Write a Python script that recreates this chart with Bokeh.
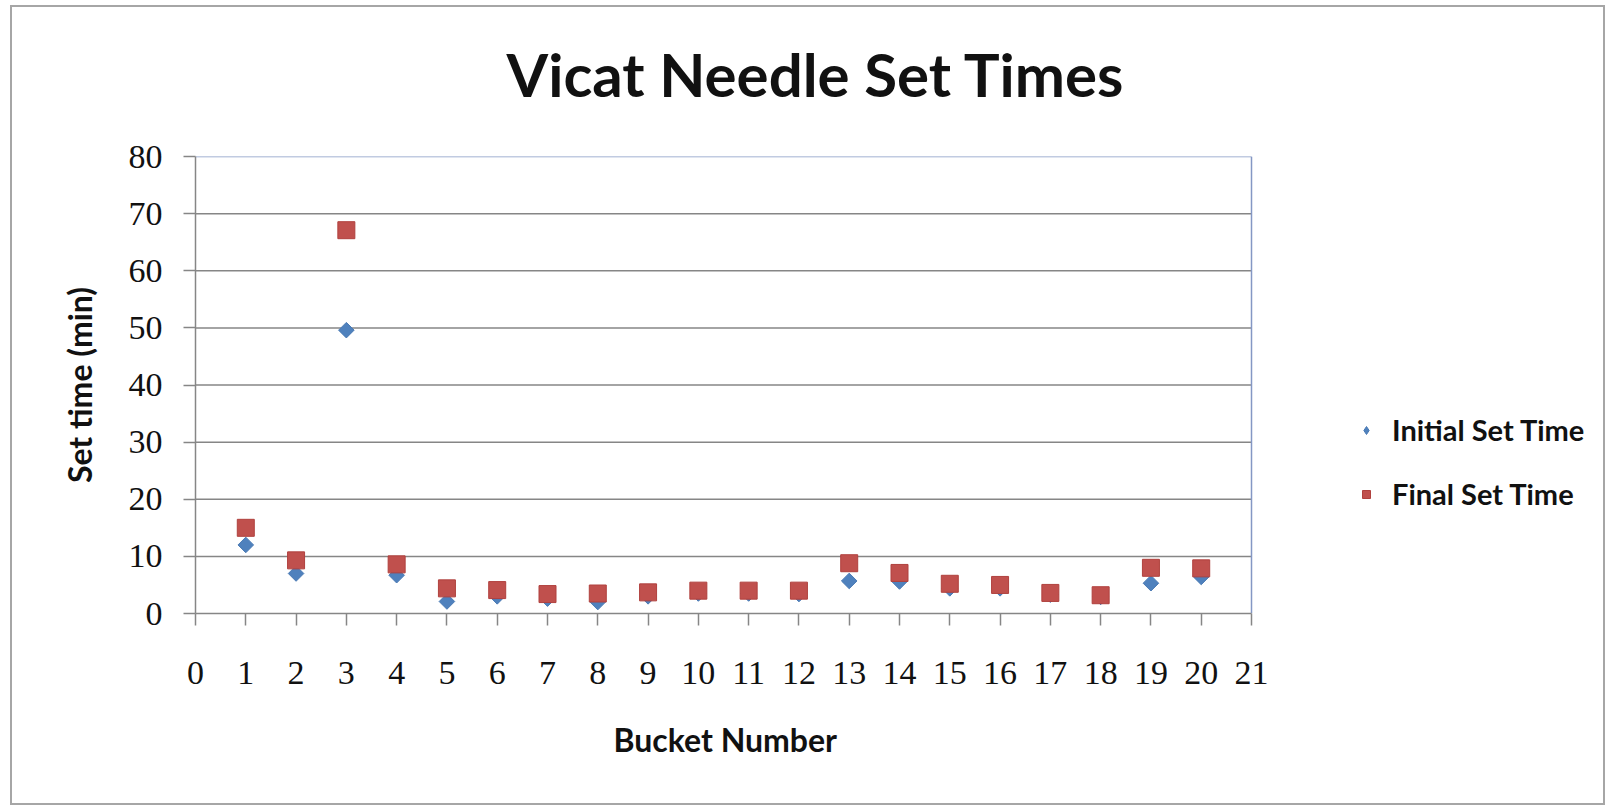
import math
from bokeh.plotting import figure
from bokeh.models import Legend, LegendItem, FixedTicker, Range1d, Title
from bokeh.embed import file_html
from bokeh.resources import INLINE

buckets = list(range(1, 21))
initial_set = [12.0, 7.0, 49.6, 6.7, 2.1, 3.0, 2.6, 2.0, 3.0, 3.5,
               3.5, 3.4, 5.7, 5.6, 4.4, 4.4, 3.3, 2.9, 5.3, 6.4]
final_set = [15.0, 9.3, 67.1, 8.6, 4.4, 4.1, 3.4, 3.5, 3.7, 4.0,
             4.0, 4.0, 8.8, 7.1, 5.2, 5.0, 3.6, 3.2, 8.0, 7.9]
x_ticks = list(range(0, 22))
y_ticks = list(range(0, 81, 10))

BLUE, BLUE_EDGE = "#4f81bd", "#4a7ab4"
RED, RED_EDGE = "#c0504d", "#b0413e"
GRID = "#868686"
FRAME = "#8497c4"
BOX = "#a6a6a6"

# canvas / layout (pixels); the element is shifted up 15px so the tall
# title panel fits above the plot area
SHIFT = 15
W, H = 1606, 821
LEFT, TOP, BOTTOM = 195, 171, 193
PLOT_W = 1056                       # width of the data area (x from 0 to 21)
frame_w = W - LEFT                  # frame extends right to hold the legend
x_min, x_max = x_ticks[0], x_ticks[-1]
x_end = x_min + (x_max - x_min) * frame_w / PLOT_W

p = figure(width=W, height=H, output_backend="svg", toolbar_location=None,
           x_range=Range1d(x_min, x_end), y_range=Range1d(y_ticks[0], y_ticks[-1]),
           min_border_left=LEFT, min_border_right=0,
           min_border_top=TOP, min_border_bottom=BOTTOM,
           background_fill_color=None, border_fill_color=None)
# outer chart-area box drawn as CSS background lines behind the transparent canvas
line = f"linear-gradient({BOX},{BOX})"
p.styles = {
    "margin-top": f"-{SHIFT}px",
    "background-color": "white",
    "background-image": ", ".join([line] * 4),
    "background-repeat": "no-repeat",
    "background-position": f"10px {5 + SHIFT}px, 10px {803 + SHIFT}px, "
                           f"10px {5 + SHIFT}px, 1603px {5 + SHIFT}px",
    "background-size": "1595px 2px, 1595px 2px, 2px 800px, 2px 800px",
}
p.outline_line_color = None

p.title = Title(text="Vicat Needle Set Times", align="left",
                text_font="Lato", text_font_size="60px", text_font_style="bold",
                text_color="#111111", standoff=94, offset=311)

for ax in (p.xaxis, p.yaxis):
    ax.axis_line_color = GRID
    ax.axis_line_width = 1.5
    ax.major_tick_line_color = GRID
    ax.major_tick_line_width = 1.5
    ax.major_tick_in = 0
    ax.major_tick_out = 12
    ax.minor_tick_line_color = None
    ax.major_label_text_font = "Liberation Serif"
    ax.major_label_text_font_size = "34px"
    ax.major_label_text_color = "#111111"

p.xaxis.ticker = FixedTicker(ticks=x_ticks)
p.xaxis.bounds = (x_min, x_max)
p.yaxis.ticker = FixedTicker(ticks=y_ticks)
p.xaxis.major_label_standoff = 36
p.yaxis.major_label_standoff = 21

p.yaxis.axis_label = "Set time (min)"
p.yaxis.axis_label_text_font = "Lato"
p.yaxis.axis_label_text_font_style = "bold"
p.yaxis.axis_label_text_font_size = "32px"
p.yaxis.axis_label_text_color = "#111111"
p.yaxis.axis_label_standoff = 27

# x-axis title, centred under the data area
p.add_layout(Title(text="Bucket Number", align="left", offset=418, standoff=67,
                   vertical_align="top", text_line_height=0.6,
                   text_font="Lato", text_font_size="32px", text_font_style="bold",
                   text_color="#111111"), "below")

p.xgrid.grid_line_color = None
p.ygrid.grid_line_color = None

# horizontal gridlines across the data area only
inner = y_ticks[1:-1]
p.segment(x0=[x_min] * len(inner), y0=inner, x1=[x_max] * len(inner), y1=inner,
          line_color=GRID, line_width=1.5)
# plot-area border (top and right)
p.segment(x0=[x_min, x_max], y0=[y_ticks[-1], y_ticks[0]],
          x1=[x_max, x_max], y1=[y_ticks[-1], y_ticks[-1]],
          line_color=FRAME, line_width=1.5)

r_init = p.scatter(buckets, initial_set, marker="square", size=11, angle=math.pi / 4,
                   fill_color=BLUE, line_color=BLUE_EDGE, line_width=1)
r_final = p.scatter(buckets, final_set, marker="square", size=17,
                    fill_color=RED, line_color=RED_EDGE, line_width=1)
# legend keys (no visible data point)
leg_init = p.scatter([float("nan")], [float("nan")], marker="diamond", size=14,
                     fill_color=BLUE, line_color=BLUE_EDGE, line_width=1)
leg_final = p.scatter([float("nan")], [float("nan")], marker="square", size=13,
                      fill_color=RED, line_color=RED_EDGE, line_width=1)

legend = Legend(items=[LegendItem(label="Initial Set Time", renderers=[leg_init]),
                       LegendItem(label="Final Set Time", renderers=[leg_final])],
                location=(1161, 102), orientation="vertical",
                border_line_color=None, background_fill_alpha=0,
                padding=0, margin=0, spacing=29,
                glyph_width=20, glyph_height=30, label_height=30,
                label_standoff=16,
                label_text_font="Lato", label_text_font_size="29px",
                label_text_font_style="bold", label_text_color="#111111")
p.add_layout(legend, "center")

open("out.html", "w").write(file_html(p, INLINE))
